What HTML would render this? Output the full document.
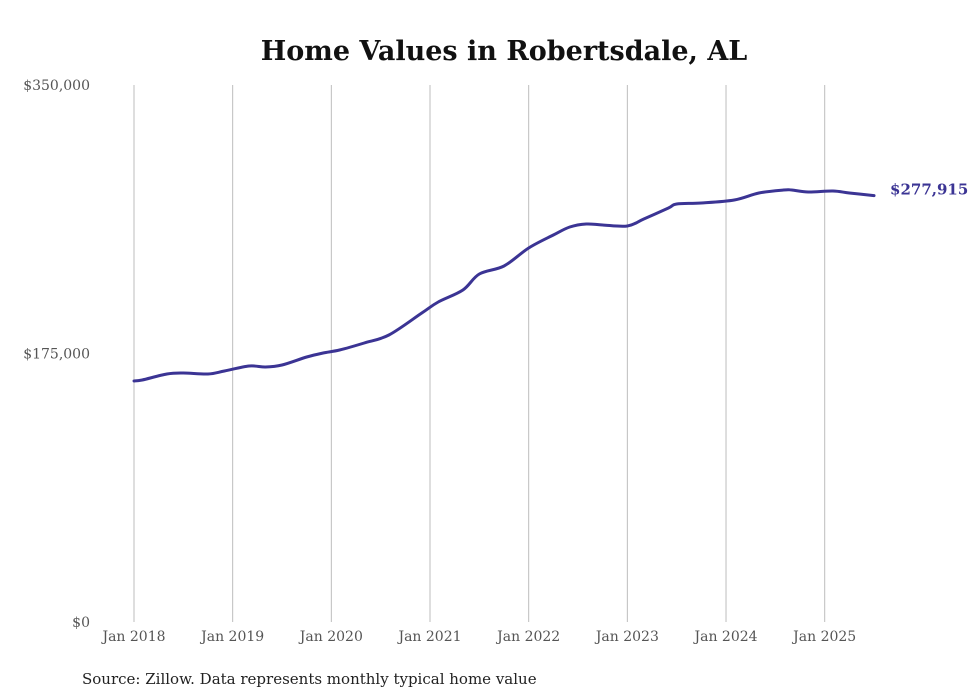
<!DOCTYPE html>
<html><head><meta charset="utf-8"><style>
body{margin:0;background:#fff;}
svg{display:block;}
.serif{font-family:"DejaVu Serif","Liberation Serif",serif;}
.title{font-family:"DejaVu Serif","Liberation Serif",serif;font-weight:bold;font-size:27px;}
.tick{font-family:"DejaVu Serif","Liberation Serif",serif;font-size:14px;}
.src{font-family:"DejaVu Serif","Liberation Serif",serif;font-size:15px;}
.last{font-family:"DejaVu Serif","Liberation Serif",serif;font-size:15px;font-weight:bold;}
</style></head><body>
<svg id="chart" width="980" height="699">
<text class="title" x="504" y="60" text-anchor="middle" fill="#111">Home Values in Robertsdale, AL</text>
<g id="grid"></g><g id="yaxis"></g><g id="xaxis"></g><g id="series"></g>
<text class="src" x="82" y="684" fill="#222">Source: Zillow. Data represents monthly typical home value</text>
</svg>
<script>
const months=[0,1,4,6,9,11,14,16,18,21,23,25,28,31,35,37,40,42,45,48,51,53,55,57,60,62,65,66,69,73,76,79,80,82,85,87,90];
const values=[157077,157728,161639,162291,161639,163594,166853,166201,167505,172719,175326,177281,181844,187058,201397,208566,216388,226816,232030,243762,252235,257449,259404,258753,258101,262663,269833,272440,273092,275047,279609,281564,281564,280261,280913,279609,277915];
const yTicks=[0,175000,350000];
const yTickLabels=["$0","$175,000","$350,000"];
const xTickMonths=[0,12,24,36,48,60,72,84];
const xTickLabels=["Jan 2018","Jan 2019","Jan 2020","Jan 2021","Jan 2022","Jan 2023","Jan 2024","Jan 2025"];
const lastLabel="$277,915";
const NS="http://www.w3.org/2000/svg";
const x=m=>134+m*(98.67/12);
const y=v=>622-v/350000*537;
function mk(t,a,p){const e=document.createElementNS(NS,t);for(const k in a)e.setAttribute(k,a[k]);p.appendChild(e);return e;}
const grid=document.getElementById('grid'),ya=document.getElementById('yaxis'),xa=document.getElementById('xaxis'),se=document.getElementById('series');
xTickMonths.forEach((m,i)=>{
  const l=mk('line',{x1:x(m),x2:x(m),y1:85,y2:622,stroke:'#bdbdbd','stroke-width':1},grid);
  
  
  const t=mk('text',{x:x(m),y:641,'text-anchor':'middle','class':'tick',fill:'#555'},xa);
  t.textContent=xTickLabels[i];
  
  
});
yTicks.forEach((v,i)=>{
  const t=mk('text',{x:90,y:y(v)+5,'text-anchor':'end','class':'tick',fill:'#555'},ya);
  t.textContent=yTickLabels[i];
  
  
});
const pts=months.map((m,i)=>[x(m),y(values[i])]);
let d='M'+pts[0][0]+','+pts[0][1];
for(let i=0;i<pts.length-1;i++){
  const p0=pts[i-1]||pts[i],p1=pts[i],p2=pts[i+1],p3=pts[i+2]||p2;
  const c1=[p1[0]+(p2[0]-p0[0])/6,p1[1]+(p2[1]-p0[1])/6],c2=[p2[0]-(p3[0]-p1[0])/6,p2[1]-(p3[1]-p1[1])/6];
  d+=' C'+c1+' '+c2+' '+p2;
}
const path=mk('path',{d:d,fill:'none',stroke:'#3b3494','stroke-width':3,'stroke-linejoin':'round','stroke-linecap':'round'},se);


const lp=pts[pts.length-1];
const lt=mk('text',{x:lp[0]+16,y:lp[1]-1,'class':'last',fill:'#3b3494'},se);
lt.textContent=lastLabel;


</script>
</body></html>
